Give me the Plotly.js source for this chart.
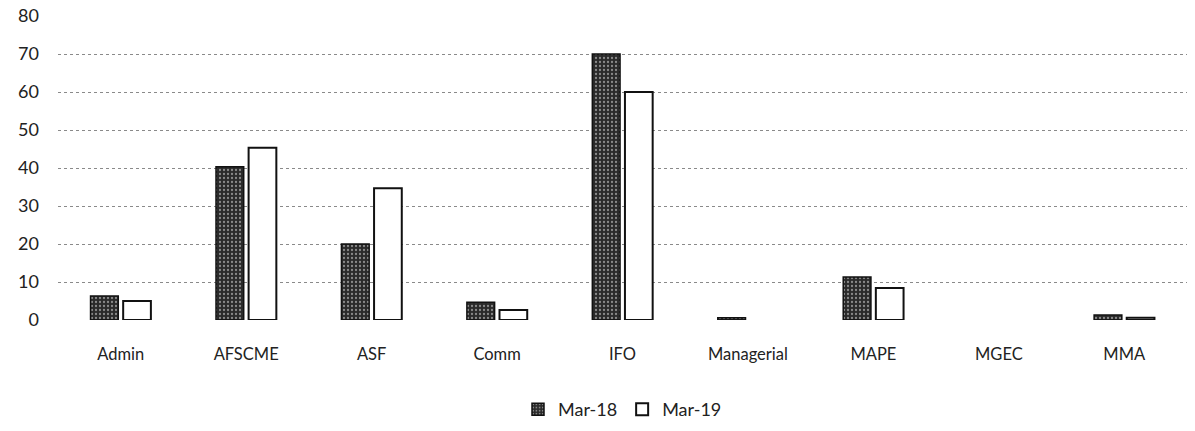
<!DOCTYPE html>
<html>
<head>
<meta charset="utf-8">
<script src="https://cdn.plot.ly/plotly-3.0.1.min.js"></script>
<style>html,body{margin:0;padding:0;background:#fff;}#chart{width:1195px;height:431px;}</style>
</head>
<body>
<div id="chart"></div>
<script>
const categories = ["Admin", "AFSCME", "ASF", "Comm", "IFO", "Managerial", "MAPE", "MGEC", "MMA"];
const mar18 = [6.3, 40.3, 20, 4.7, 70, 0.6, 11.3, null, 1.3];
const mar19 = [5, 45.3, 34.7, 2.6, 60, null, 8.4, null, 0.6];
const seriesNames = ["Mar-18", "Mar-19"];
const yTicks = [0, 10, 20, 30, 40, 50, 60, 70, 80];

const font = "Lato, 'Open Sans', sans-serif";

const traces = [
  {
    type: "bar", name: seriesNames[0], x: categories, y: mar18,
    marker: {
      color: "#2e2e2e",
      line: {color: "#111", width: 1.5},
      pattern: {shape: ".", fgcolor: "#8a8a8a", bgcolor: "#2a2a2a", size: 4, solidity: 0.25}
    }
  },
  {
    type: "bar", name: seriesNames[1], x: categories, y: mar19,
    marker: {color: "#ffffff", line: {color: "#111", width: 2}}
  }
];

const layout = {
  width: 1195, height: 431,
  margin: {l: 58, r: 8, t: 16, b: 111, autoexpand: false},
  paper_bgcolor: "#fff", plot_bgcolor: "#fff",
  font: {family: font, size: 16, color: "#222"},
  barmode: "group",
  bargap: 0.48,
  bargroupgap: 0.15,
  showlegend: true,
  legend: {
    orientation: "h", x: 0.5, xanchor: "center",
    yref: "container", y: 0.05, yanchor: "middle",
    font: {family: font, size: 18, color: "#222"}
  },
  xaxis: {
    type: "category",
    showgrid: false, zeroline: false, showline: false,
    ticks: "", ticklabelstandoff: 22,
    tickfont: {family: font, size: 16.5, color: "#222"}
  },
  yaxis: {
    range: [0, 80], tickvals: yTicks, ticktext: yTicks.map(String),
    showgrid: true, gridcolor: "#8a8a8a", gridwidth: 1, griddash: "dot",
    zeroline: false, showline: false, ticks: "", ticklabelstandoff: 18,
    tickfont: {family: font, size: 18, color: "#222"}
  }
};

Plotly.newPlot("chart", traces, layout, {displayModeBar: false, staticPlot: true});
</script>
</body>
</html>
